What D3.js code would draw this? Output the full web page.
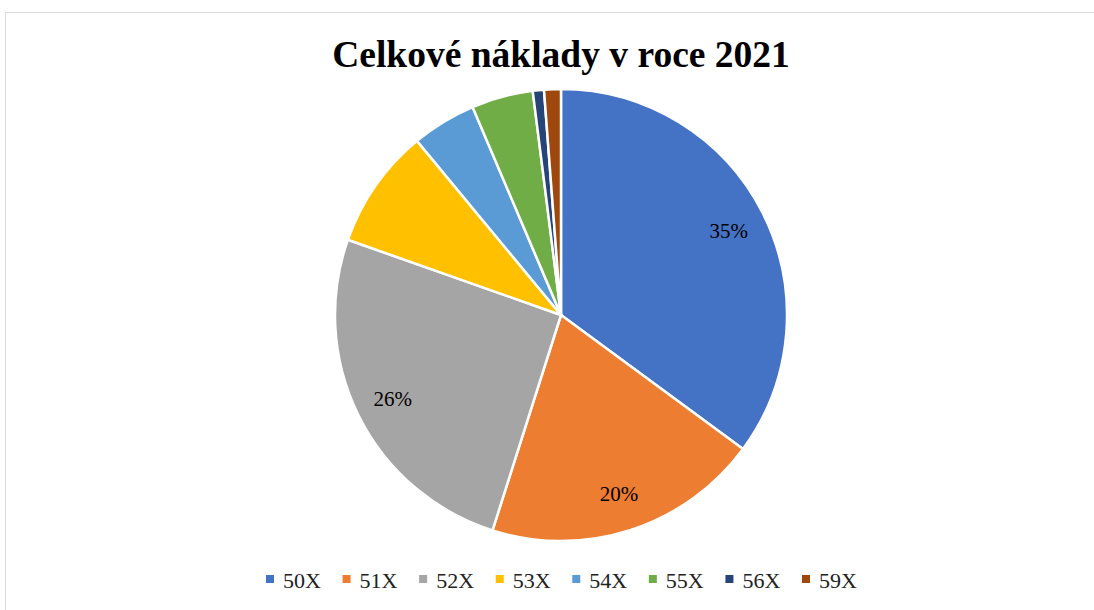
<!DOCTYPE html>
<meta charset="utf-8">
<style>
  body { margin: 0; background: white; }
  svg text { font-family: 'Liberation Serif', 'Times New Roman', serif; }
</style>
<script src="https://d3js.org/d3.v7.min.js"></script>
<div id="chart"></div>
<script>
// data
var categories = ["50X", "51X", "52X", "53X", "54X", "55X", "56X", "59X"];
var shares = [35.1, 19.8, 25.5, 8.6, 4.6, 4.4, 0.8, 1.2];
var labels = ["35%", "20%", "26%", "", "", "", "", ""];
var colors = ["#4472c4", "#ed7d31", "#a5a5a5", "#ffc000", "#5b9bd5", "#70ad47", "#264478", "#9e480e"];

var width = 1094, height = 610;
var cx = 561, cy = 315, r = 226;
var serif = "'Liberation Serif', 'Times New Roman', serif";

var svg = d3.select("#chart").append("svg")
  .attr("width", width)
  .attr("height", height);

// chart frame
svg.append("rect")
  .attr("x", 5.5).attr("y", 12.5)
  .attr("width", 1100).attr("height", 620)
  .style("fill", "none")
  .style("stroke", "#d9d9d9");

svg.append("text")
  .attr("x", cx).attr("y", 67)
  .attr("text-anchor", "middle")
  .style("font-family", serif)
  .style("font-size", "37.5px")
  .style("font-weight", "bold")
  .text("Celkové náklady v roce 2021");

var data = categories.map(function(c, i) {
  return {name: c, value: shares[i], label: labels[i], color: colors[i]};
});

var pie = d3.pie().sort(null).value(function(d) { return d.value; });
var arc = d3.arc().innerRadius(0).outerRadius(r);
var labelArc = d3.arc().innerRadius(188).outerRadius(188);

var g = svg.append("g").attr("transform", "translate(" + cx + "," + cy + ")");

g.selectAll("path")
  .data(pie(data))
  .enter()
  .append("path")
    .attr("d", arc)
    .style("fill", function(d) { return d.data.color; })
    .style("stroke", "white")
    .style("stroke-width", 2.5);

g.selectAll("text.lbl")
  .data(pie(data))
  .enter()
  .append("text")
    .attr("class", "lbl")
    .attr("transform", function(d) { return "translate(" + labelArc.centroid(d) + ")"; })
    .attr("text-anchor", "middle")
    .attr("dy", "0.35em")
    .style("font-family", serif)
    .style("font-size", "21px")
    .style("fill", "#000")
    .text(function(d) { return d.data.label; });

// legend
var legendX = d3.scalePoint().domain(categories).range([270, 806]);
var leg = svg.selectAll("g.leg")
  .data(data)
  .enter()
  .append("g")
    .attr("class", "leg")
    .attr("transform", function(d) { return "translate(" + legendX(d.name) + ",579)"; });

leg.append("rect")
  .attr("x", -4).attr("y", -4)
  .attr("width", 8).attr("height", 8)
  .style("fill", function(d) { return d.color; });

leg.append("text")
  .attr("x", 13).attr("y", 1)
  .attr("dy", "0.35em")
  .style("font-family", serif)
  .style("font-size", "22px")
  .style("fill", "#222")
  .text(function(d) { return d.name; });
</script>
